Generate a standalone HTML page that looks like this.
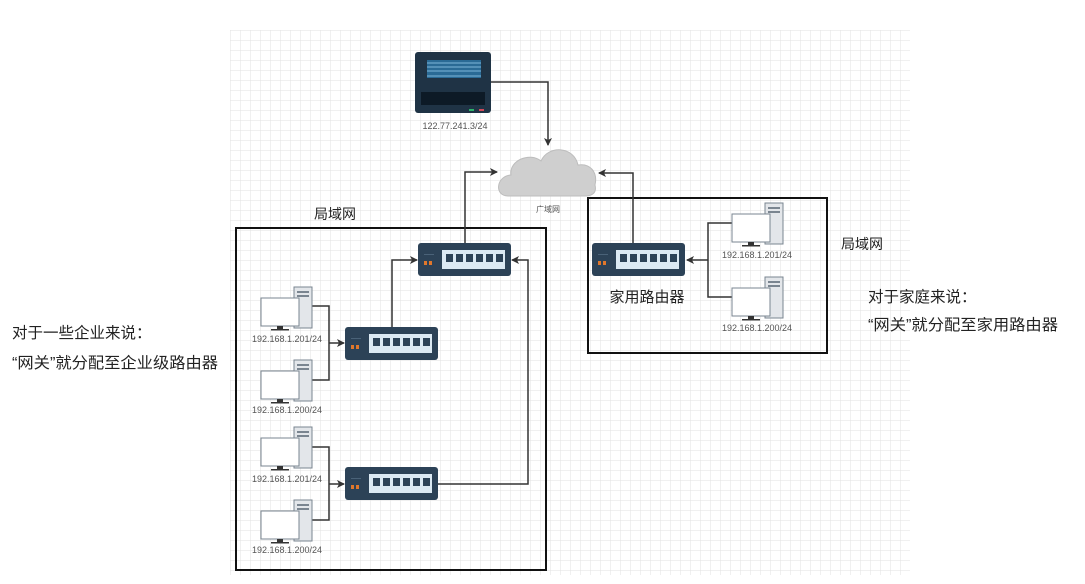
<!DOCTYPE html>
<html><head><meta charset="utf-8"><style>
html,body{margin:0;padding:0;background:#fff;}
svg{display:block;font-family:"Liberation Sans","Noto Sans CJK SC",sans-serif;}
</style></head><body>
<svg width="1085" height="584" viewBox="0 0 1085 584" xmlns="http://www.w3.org/2000/svg">
<defs>
<pattern id="g" width="10" height="10" patternUnits="userSpaceOnUse" x="230" y="30">
<path d="M10 0H0V10" fill="none" stroke="#e2e2e2" stroke-width="1"/>
</pattern>
<marker id="a" markerWidth="8" markerHeight="8" refX="7" refY="4" orient="auto" markerUnits="userSpaceOnUse">
<path d="M0,0 L8,4 L0,8 L2,4z" fill="#333"/>
</marker>
<g id="sw">
<rect x="0" y="0" width="93" height="33" rx="3" fill="#2c4257"/>
<rect x="24" y="7" width="63" height="19" fill="#dbe9f3"/>
<g fill="#2c4257">
<rect x="28" y="11" width="7" height="8"/><rect x="38" y="11" width="7" height="8"/><rect x="48" y="11" width="7" height="8"/>
<rect x="58" y="11" width="7" height="8"/><rect x="68" y="11" width="7" height="8"/><rect x="78" y="11" width="7" height="8"/>
</g>
<rect x="6" y="18" width="3" height="4" fill="#e0772c"/><rect x="11" y="18" width="3" height="4" fill="#e0772c"/>
<rect x="6" y="11" width="10" height="1" fill="#4a6278"/>
</g>
<g id="pc">
<rect x="33" y="0" width="18" height="41" fill="#e3e6ea" stroke="#7a8590" stroke-width="1"/>
<rect x="36" y="4" width="12" height="2" fill="#7a8590"/><rect x="36" y="8" width="12" height="2" fill="#7a8590"/>
<rect x="0" y="11" width="38" height="28" fill="#fff" stroke="#7a8590" stroke-width="1"/>
<rect x="16" y="39" width="6" height="3" fill="#333"/><rect x="10" y="42" width="18" height="1.5" fill="#333"/>
</g>
</defs>
<rect x="230" y="30" width="680" height="545" fill="url(#g)"/>

<rect x="415" y="52" width="76" height="61" rx="3" fill="#1f3345"/>
<rect x="427" y="60" width="54" height="18" fill="#2a6a95"/>
<g stroke="#7fb7d9" stroke-width="1"><line x1="427" y1="63" x2="481" y2="63"/><line x1="427" y1="67" x2="481" y2="67"/><line x1="427" y1="71" x2="481" y2="71"/><line x1="427" y1="76" x2="481" y2="76"/></g>
<rect x="421" y="92" width="64" height="13" fill="#0d1a26"/>
<rect x="469" y="109" width="5" height="2" fill="#2db36b"/><rect x="479" y="109" width="5" height="2" fill="#d04a5a"/>
<text x="455" y="129" font-size="9" fill="#555" text-anchor="middle">122.77.241.3/24</text>
<path d="M491 82H548V145" fill="none" stroke="#333" stroke-width="1.5" marker-end="url(#a)"/>

<path d="M508 196 C494 196 496 176 511 175 C509 160 530 152 541 161 C548 145 574 146 578 165 C590 163 598 172 595 185 C597 193 592 196 585 196 Z" fill="#cfcfcf" stroke="#bdbdbd"/>
<text x="548" y="212" font-size="8" fill="#555" text-anchor="middle">广域网</text>

<rect x="236" y="228" width="310" height="342" fill="none" stroke="#111" stroke-width="2"/>
<rect x="588" y="198" width="239" height="155" fill="none" stroke="#111" stroke-width="2"/>
<text x="335" y="219" font-size="14" fill="#222" text-anchor="middle">局域网</text>
<text x="862" y="249" font-size="14" fill="#222" text-anchor="middle">局域网</text>

<use href="#sw" x="418" y="243"/>
<use href="#sw" x="345" y="327"/>
<use href="#sw" x="345" y="467"/>
<use href="#sw" x="592" y="243"/>
<text x="647" y="302" font-size="15" fill="#222" text-anchor="middle">家用路由器</text>

<g fill="none" stroke="#333" stroke-width="1.5">
<path d="M465 243V172H497" marker-end="url(#a)"/>
<path d="M392 327V260H417" marker-end="url(#a)"/>
<path d="M438 484H528V260H512" marker-end="url(#a)"/>
<path d="M633 243V173H599" marker-end="url(#a)"/>
<path d="M312 306H329V380H312"/><path d="M329 343H344" marker-end="url(#a)"/>
<path d="M312 447H329V520H312"/><path d="M329 484H344" marker-end="url(#a)"/>
<path d="M732 223H708V297H732"/><path d="M708 260H687" marker-end="url(#a)"/>
</g>

<use href="#pc" x="261" y="287"/>
<use href="#pc" x="261" y="360"/>
<use href="#pc" x="261" y="427"/>
<use href="#pc" x="261" y="500"/>
<use href="#pc" x="732" y="203"/>
<use href="#pc" x="732" y="277"/>
<g font-size="9" fill="#555" text-anchor="middle">
<text x="287" y="342">192.168.1.201/24</text>
<text x="287" y="413">192.168.1.200/24</text>
<text x="287" y="482">192.168.1.201/24</text>
<text x="287" y="553">192.168.1.200/24</text>
<text x="757" y="258">192.168.1.201/24</text>
<text x="757" y="331">192.168.1.200/24</text>
</g>

<g font-size="15.5" fill="#222">
<text x="12" y="338">对于一些企业来说：</text>
<text x="12" y="368" textLength="206" lengthAdjust="spacingAndGlyphs">“网关”就分配至企业级路由器</text>
<text x="868" y="302">对于家庭来说：</text>
<text x="868" y="330" textLength="190" lengthAdjust="spacingAndGlyphs">“网关”就分配至家用路由器</text>
</g>
</svg>
</body></html>
